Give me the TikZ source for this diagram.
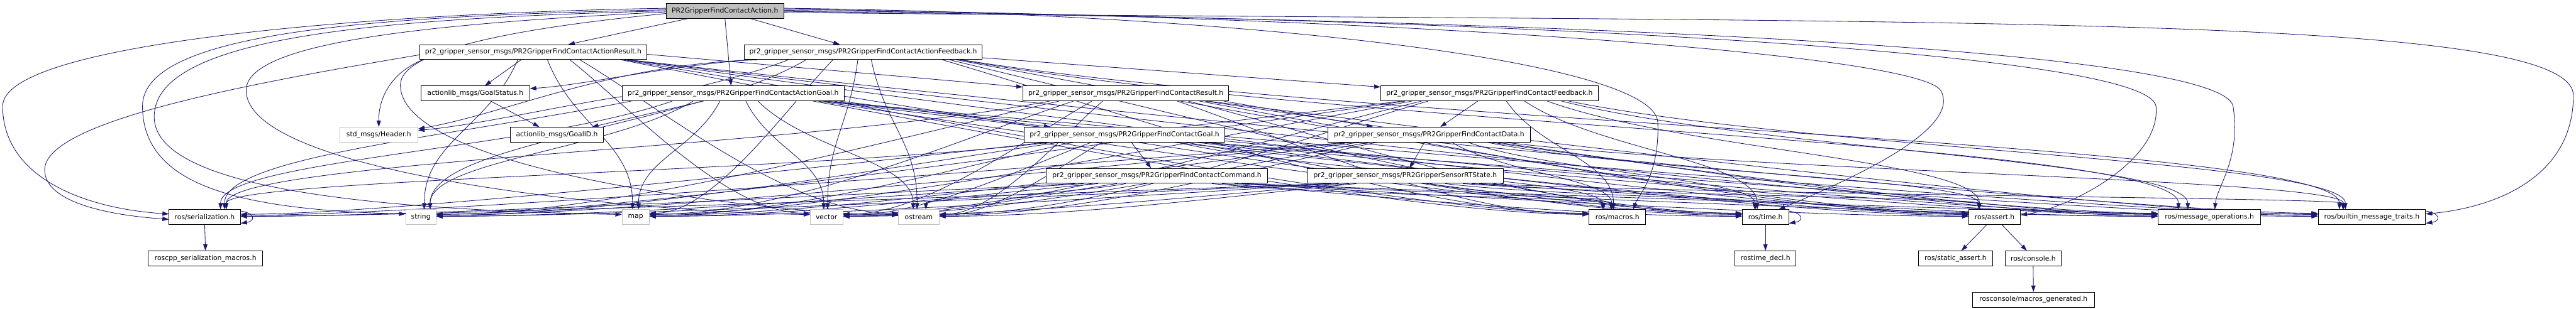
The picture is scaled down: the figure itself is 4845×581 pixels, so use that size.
\documentclass[tikz,border=0pt]{standalone}
\usepackage{fontspec}
\setmainfont{DejaVu Sans}
\usetikzlibrary{arrows.meta,calc}
\definecolor{edgecol}{HTML}{191970}
\definecolor{extgray}{HTML}{BFBFBF}
\pgfdeclarelayer{bg}
\pgfsetlayers{bg,main}
\newcommand\bx[6]{\node[#1,minimum width={(#4-#3)*1pt}] (#2) at ({(#3+#4)/2},{-(20.5+77.7*#5)}) {#6};}
% top arrival
\newcommand\dt[2]{\draw[dep] let \p1=(#1.south), \p2=(#2.north), \p3=(#1.south east), \p4=(#2.north east),
 \n1={0.85*(\x3-\x1)*tanh((\x2-\x1)/1300)},
 \n2={max(min((\x1-\x2)*0.03,0.6*(\x4-\x2)),-0.6*(\x4-\x2))},
 \n3={0.45*(\y1-\y2)},
 \n5={0.3*(\x2-\x1-\n1)}
 in (\x1+\n1,\y1) .. controls (\x1+\n1+\n5,\y1-\n3) and (\x2+\n2,\y2+\n3) .. (\x2+\n2,\y2);}
% west-side arrival
\newcommand\dw[2]{\draw[dep] let \p1=(#1.south), \p2=(#2.west), \p3=(#1.south east),
 \n1={0.85*(\x3-\x1)*tanh((\x2-\x1)/1300)},
 \n2={min(0.025*(\y1-\y2),9)},
 \n3={0.3*(\y1-\y2)},
 \n4={min(0.3*abs(\x2-\x1),350)},
 \n5={0.25*(\x2-\x1-\n1)}
 in (\x1+\n1,\y1) .. controls (\x1+\n1+\n5,\y1-\n3) and (\x2-\n4,\y2+\n2) .. (\x2,\y2+\n2);}
% east-side arrival
\newcommand\de[2]{\draw[dep] let \p1=(#1.south), \p2=(#2.east), \p3=(#1.south east),
 \n1={0.85*(\x3-\x1)*tanh((\x2-\x1)/1300)},
 \n2={min(0.025*(\y1-\y2),9)},
 \n3={0.3*(\y1-\y2)},
 \n4={min(0.3*abs(\x2-\x1),350)},
 \n5={0.25*(\x2-\x1-\n1)}
 in (\x1+\n1,\y1) .. controls (\x1+\n1+\n5,\y1-\n3) and (\x2+\n4,\y2+\n2) .. (\x2,\y2+\n2);}
\begin{document}
\begin{tikzpicture}[x=1pt,y=1pt,
  nd/.style={draw=black,line width=1.1pt,fill=white,inner sep=0pt,minimum height=28pt,
    font=\fontsize{12.75}{15}\selectfont,text=black},
  ext/.style={nd,draw=extgray},
  rootnd/.style={nd,fill=extgray},
  dep/.style={draw=edgecol,line width=1pt,-{Triangle[length=12pt,width=8pt]}},
  ]
\useasboundingbox (0,0) rectangle (4845,-581);
\begin{pgfonlayer}{bg}
\fill[white] (0,0) rectangle (4845,-581);
\end{pgfonlayer}
% ---------- nodes ----------
\bx{rootnd}{R0}{1253}{1474}{0}{PR2GripperFindContactAction.h}
\bx{nd}{AR}{790}{1216}{1}{pr2\_gripper\_sensor\_msgs/PR2GripperFindContactActionResult.h}
\bx{nd}{AF}{1400}{1847}{1}{pr2\_gripper\_sensor\_msgs/PR2GripperFindContactActionFeedback.h}
\bx{nd}{GS}{792}{996}{2}{actionlib\_msgs/GoalStatus.h}
\bx{nd}{AG}{1170}{1588}{2}{pr2\_gripper\_sensor\_msgs/PR2GripperFindContactActionGoal.h}
\bx{nd}{RES}{1924}{2311}{2}{pr2\_gripper\_sensor\_msgs/PR2GripperFindContactResult.h}
\bx{nd}{FB}{2597}{3006}{2}{pr2\_gripper\_sensor\_msgs/PR2GripperFindContactFeedback.h}
\bx{ext}{HDR}{639}{786}{3}{std\_msgs/Header.h}
\bx{nd}{GID}{960}{1135}{3}{actionlib\_msgs/GoalID.h}
\bx{nd}{GOAL}{1926}{2304}{3}{pr2\_gripper\_sensor\_msgs/PR2GripperFindContactGoal.h}
\bx{nd}{DATA}{2498}{2878}{3}{pr2\_gripper\_sensor\_msgs/PR2GripperFindContactData.h}
\bx{nd}{CMD}{1968}{2384}{4}{pr2\_gripper\_sensor\_msgs/PR2GripperFindContactCommand.h}
\bx{nd}{RT}{2459}{2827}{4}{pr2\_gripper\_sensor\_msgs/PR2GripperSensorRTState.h}
\bx{nd}{SER}{318}{452}{5}{ros/serialization.h}
\bx{ext}{STR}{763}{820}{5}{string}
\bx{ext}{MAP}{1170}{1221}{5}{map}
\bx{ext}{VEC}{1524}{1585}{5}{vector}
\bx{ext}{OST}{1690}{1766}{5}{ostream}
\bx{nd}{MAC}{2989}{3095}{5}{ros/macros.h}
\bx{nd}{TIME}{3277}{3364}{5}{ros/time.h}
\bx{nd}{ASRT}{3703}{3800}{5}{ros/assert.h}
\bx{nd}{MOPS}{4059}{4252}{5}{ros/message\_operations.h}
\bx{nd}{BMT}{4360}{4562}{5}{ros/builtin\_message\_traits.h}
\bx{nd}{SMAC}{279}{494}{6}{roscpp\_serialization\_macros.h}
\bx{nd}{TDECL}{3263}{3378}{6}{rostime\_decl.h}
\bx{nd}{SASRT}{3608}{3748}{6}{ros/static\_assert.h}
\bx{nd}{CONS}{3771}{3877}{6}{ros/console.h}
\bx{nd}{MGEN}{3710}{3939}{7}{rosconsole/macros\_generated.h}
% ---------- edges ----------
\begin{pgfonlayer}{bg}
% root, direct
\draw[dep] ($(R0.south)+(-70,0)$) -- ($(AR.north)+(66,0)$);
\draw[dep] (R0.south) -- ($(AG.north)+(-4,0)$);
\draw[dep] ($(R0.south)+(48,0)$) -- ($(AF.north)+(-44,0)$);
% root, long loops to the left
\draw[dep] ($(R0.west)+(0,5)$) .. controls (700,-25) and (5,-80) .. (5,-200) .. controls (5,-330) and (150,-392) .. ($(SER.west)+(0,6)$);
\draw[dep] ($(R0.west)+(0,2)$) .. controls (700,-30) and (268,-60) .. (268,-200) .. controls (268,-350) and (450,-395) .. ($(STR.west)+(0,6)$);
\draw[dep] ($(R0.west)+(0,0)$) .. controls (700,-35) and (290,-70) .. (290,-220) .. controls (290,-355) and (700,-395) .. ($(MAP.west)+(0,5)$);
\draw[dep] ($(R0.west)+(0,-2)$) .. controls (800,-45) and (463,-80) .. (463,-170) .. controls (463,-330) and (1200,-400) .. ($(VEC.west)+(0,5)$);
\draw[dep] ($(R0.west)+(0,-5)$) .. controls (1000,-50) and (753,-90) .. (753,-160) .. controls (753,-330) and (1500,-405) .. ($(OST.west)+(0,4)$);
% root, long loops to the right
\draw[dep] ($(R0.east)+(0,5)$) .. controls (2300,-25) and (3110,-110) .. (3118,-230) .. controls (3122,-330) and (3080,-370) .. ($(MAC.north)+(30,0)$);
\draw[dep] ($(R0.east)+(0,3)$) .. controls (2600,-30) and (3600,-100) .. (3650,-170) .. controls (3690,-240) and (3500,-330) .. ($(TIME.north)+(25,0)$);
\draw[dep] ($(R0.east)+(0,1)$) .. controls (2900,-35) and (4040,-100) .. (4055,-200) .. controls (4065,-300) and (3900,-390) .. ($(ASRT.east)+(0,4)$);
\draw[dep] ($(R0.east)+(0,-1)$) .. controls (3100,-38) and (4180,-100) .. (4200,-200) .. controls (4215,-300) and (4170,-350) .. ($(MOPS.north)+(10,0)$);
\draw[dep] ($(R0.east)+(0,-3)$) .. controls (3600,-45) and (4840,-20) .. (4840,-180) .. controls (4840,-330) and (4700,-390) .. ($(BMT.east)+(0,6)$);
% message-specific includes
\draw[dep] ($(AR.south)+(-23,0)$) -- ($(GS.north)+(18,0)$);
\draw[dep] ($(AF.south west)+(10,0)$) .. controls (1250,-125) and (1100,-160) .. ($(GS.east)+(0,9)$);
\draw[dep] ($(AR.south west)+(5,0)$) .. controls (730,-140) and (712,-190) .. (HDR.north);
\draw[dep] ($(AG.west)+(0,-6)$) .. controls (1050,-200) and (900,-235) .. ($(HDR.east)+(0,8)$);
\draw[dep] ($(AF.south west)+(25,0)$) .. controls (1150,-120) and (950,-215) .. ($(HDR.east)+(0,11)$);
\draw[dep] ($(AR.east)+(0,-4)$) -- ($(RES.west)+(0,12)$);
\draw[dep] ($(AF.south east)+(0,4)$) -- ($(FB.west)+(0,12)$);
\draw[dep] ($(AG.south)+(-56,0)$) -- ($(GID.north)+(66,0)$);
\draw[dep] ($(GS.south)+(29,0)$) -- ($(GID.north)+(-33,0)$);
\draw[dep] ($(AG.south east)+(-10,0)$) -- ($(GOAL.north west)+(50,0)$);
\draw[dep] ($(RES.south east)+(-10,0)$) -- ($(DATA.north west)+(85,0)$);
\draw[dep] ($(FB.south)+(-22,0)$) -- ($(DATA.north)+(21,0)$);
\draw[dep] ($(DATA.south)+(-9,0)$) -- ($(RT.north)+(8,0)$);
\draw[dep] ($(GOAL.south)+(13,0)$) -- ($(CMD.north)+(-11,0)$);
\draw[dep] ($(AR.west)+(0,-5)$) .. controls (450,-160) and (84,-230) .. (84,-320) .. controls (84,-380) and (200,-405) .. ($(SER.west)+(0,-4)$);
% ros internals
\draw[dep] (SER.south) -- (SMAC.north);
\draw[dep] (TIME.south) -- (TDECL.north);
\draw[dep] ($(ASRT.south)+(-15,0)$) -- ($(SASRT.north)+(11,0)$);
\draw[dep] ($(ASRT.south)+(14,0)$) -- ($(CONS.north)+(-12,0)$);
\draw[dep] (CONS.south) -- (MGEN.north);
\draw[dep] ($(SER.north east)+(0,-3)$) .. controls +(28,-4) and +(28,4) .. ($(SER.south east)+(0,3)$);
\draw[dep] ($(TIME.north east)+(0,-3)$) .. controls +(28,-4) and +(28,4) .. ($(TIME.south east)+(0,3)$);
\draw[dep] ($(BMT.north east)+(0,-3)$) .. controls +(28,-4) and +(28,4) .. ($(BMT.south east)+(0,3)$);
% standard includes of every message header
\dt{AF}{SER} \dt{AG}{SER} \dt{RES}{SER} \dt{GOAL}{SER}
\de{CMD}{SER} \de{FB}{SER} \de{DATA}{SER} \de{RT}{SER}
\dt{AR}{STR} \dt{AF}{STR} \dt{AG}{STR}
\de{RES}{STR} \de{GOAL}{STR} \de{CMD}{STR} \de{FB}{STR} \de{DATA}{STR} \de{RT}{STR}
\dt{AR}{MAP} \dt{AG}{MAP} \de{AF}{MAP} \de{RES}{MAP} \de{GOAL}{MAP} \de{CMD}{MAP} \de{FB}{MAP} \de{DATA}{MAP} \de{RT}{MAP}
\dw{AR}{VEC} \dt{AF}{VEC} \dt{AG}{VEC} \de{RES}{VEC} \de{GOAL}{VEC} \de{CMD}{VEC} \de{FB}{VEC} \de{DATA}{VEC} \de{RT}{VEC}
\dw{AR}{OST} \dt{AF}{OST} \dt{AG}{OST} \dt{CMD}{OST} \de{RES}{OST} \de{GOAL}{OST} \de{FB}{OST} \de{DATA}{OST} \de{RT}{OST}
\dw{AR}{MAC} \dw{AF}{MAC} \dw{AG}{MAC} \dw{RES}{MAC} \dt{GOAL}{MAC} \dt{CMD}{MAC} \dt{FB}{MAC} \dt{DATA}{MAC} \dt{RT}{MAC}
\dw{AR}{TIME} \dw{AF}{TIME} \dw{AG}{TIME} \dw{RES}{TIME} \dw{GOAL}{TIME} \dw{CMD}{TIME} \dt{FB}{TIME} \dt{DATA}{TIME} \dt{RT}{TIME}
\dw{AR}{ASRT} \dw{AF}{ASRT} \dw{AG}{ASRT} \dw{RES}{ASRT} \dw{GOAL}{ASRT} \dw{CMD}{ASRT} \dt{FB}{ASRT} \dt{DATA}{ASRT} \dt{RT}{ASRT}
\dw{AR}{MOPS} \dw{AG}{MOPS} \dw{RES}{MOPS} \dw{GOAL}{MOPS} \dw{CMD}{MOPS} \dw{DATA}{MOPS} \dw{RT}{MOPS} \dt{AF}{MOPS} \dt{FB}{MOPS}
\dw{AR}{BMT} \dw{AG}{BMT} \dw{RES}{BMT} \dw{GOAL}{BMT} \dw{CMD}{BMT} \dt{AF}{BMT} \dt{FB}{BMT} \dt{DATA}{BMT} \dt{RT}{BMT}
\end{pgfonlayer}
\end{tikzpicture}
\end{document}
